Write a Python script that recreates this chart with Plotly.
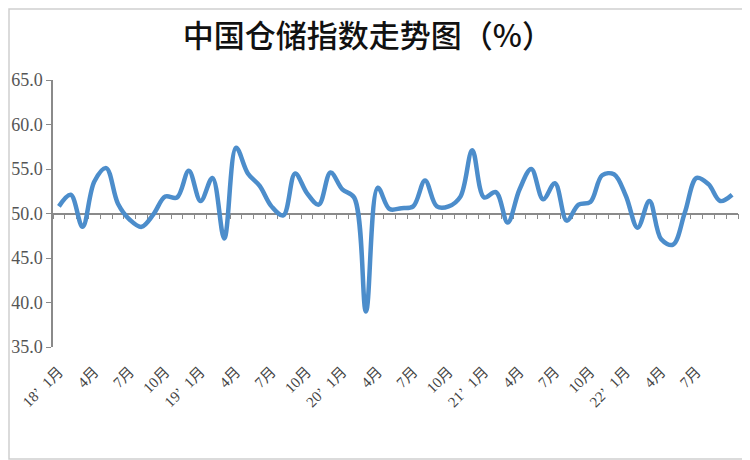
import plotly.graph_objects as go

# 中国仓储指数 (%), monthly, 2018-01 .. 2022-10
years = [2018, 2019, 2020, 2021, 2022]
months = [f"{y}-{m:02d}" for y in years for m in range(1, 13)][:58]

values = [50.8, 52.1, 48.5, 53.6, 55.1, 51.1, 49.3, 48.5, 49.9, 51.9,
          51.8, 54.8, 51.4, 54.0, 47.2, 57.4, 54.5, 53.1, 50.8, 49.8,
          54.5, 52.3, 51.0, 54.6, 52.7, 51.8, 39.0, 52.9, 50.5, 50.6,
          50.8, 53.7, 50.8, 50.8, 51.9, 57.1, 51.8, 52.4, 49.0, 52.7,
          55.0, 51.6, 53.4, 49.2, 51.0, 51.3, 54.3, 54.4, 52.0, 48.4,
          51.4, 47.1, 46.5, 50.1, 54.0, 53.3, 51.4, 52.1]

tick_labels = ["18’\u00a0\u00a01月", "4月", "7月", "10月",
               "19’\u00a0\u00a01月", "4月", "7月", "10月",
               "20’\u00a0\u00a01月", "4月", "7月", "10月",
               "21’\u00a0\u00a01月", "4月", "7月", "10月",
               "22’\u00a0\u00a01月", "4月", "7月"]
tick_pos = [months[i] for i in range(0, len(values), 3)][:len(tick_labels)]

LINE = "#4C8DCB"
AXIS = "#8a8a8a"
FONT = "Liberation Serif, Noto Sans CJK SC"

fig = go.Figure()
fig.add_trace(go.Scatter(x=months, y=values, mode="lines",
                         line=dict(color=LINE, width=4.5, shape="spline", smoothing=1.0),
                         hoverinfo="x+y"))
# dummy trace so the axis through 50 gets drawn
fig.add_trace(go.Scatter(x=list(range(len(values))), y=values, xaxis="x2",
                         mode="lines", line=dict(width=0), opacity=0, hoverinfo="skip"))

# page body has an 8px margin, so the figure is a bit smaller than the window
fig.update_layout(
    width=742, height=452,
    margin=dict(l=45, r=12, t=72, b=113),
    plot_bgcolor="white", paper_bgcolor="white",
    showlegend=False,
    title=dict(text="中国仓储指数走势图（%）", x=0.485, xanchor="center",
               y=0.938, yanchor="middle", automargin=False,
               font=dict(family="Noto Sans CJK SC", size=31, weight=500, color="#111")),
    xaxis=dict(type="category", range=[-0.5, len(values) - 0.5],
               tickvals=tick_pos, ticktext=tick_labels, tickangle=-45,
               showline=False, ticks="", showgrid=False, zeroline=False,
               ticklabelstandoff=12, automargin=False,
               tickfont=dict(family=FONT, size=15, color="#444")),
    xaxis2=dict(overlaying="x", anchor="free", position=0.5, type="linear",
                range=[-0.5, len(values) - 0.5], tick0=-0.5, dtick=1,
                ticks="outside", ticklen=5, tickcolor=AXIS, tickwidth=1.2,
                showline=True, linecolor=AXIS, linewidth=1.5,
                showticklabels=False, showgrid=False, zeroline=False,
                automargin=False, layer="below traces"),
    yaxis=dict(range=[35, 65], tick0=35, dtick=5, tickformat=".1f",
               ticks="outside", ticklen=5, tickcolor=AXIS,
               showline=True, linecolor=AXIS, linewidth=1.5,
               showgrid=False, zeroline=False, automargin=False,
               tickfont=dict(family=FONT, size=18, color="#555")),
)

# thin frame around the whole chart
fig.add_shape(type="rect", xref="paper", yref="paper",
              x0=-44 / 685, x1=696 / 685, y0=-112 / 267, y1=1 + 71 / 267,
              line=dict(color="#cfcfcf", width=1.5), layer="below")

fig.write_html("out.html")
